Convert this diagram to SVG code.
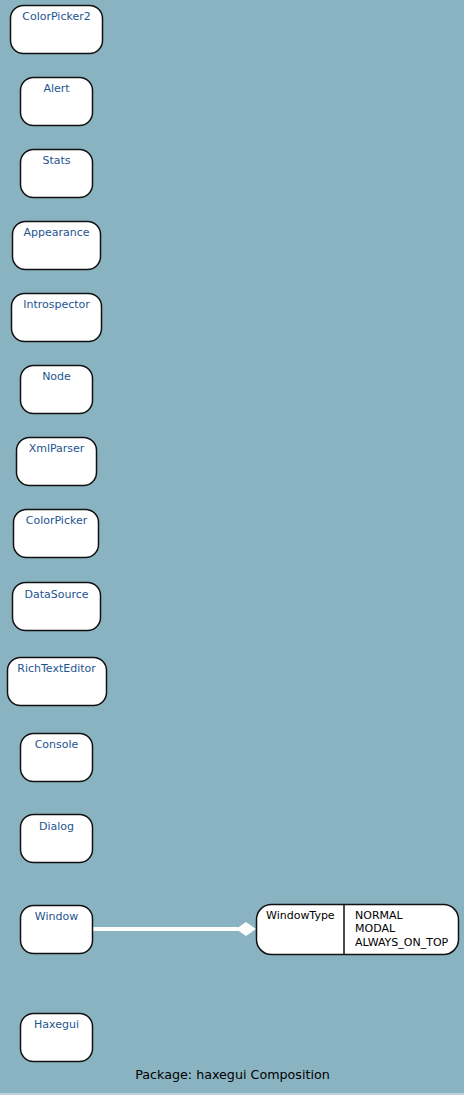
<svg xmlns="http://www.w3.org/2000/svg" width="464" height="1095" viewBox="0 0 464 1095">
<style>
.n{fill:#fff;stroke:#111;stroke-width:1.5}
.t{font-family:"DejaVu Sans",sans-serif;font-size:11px;fill:#1d5490;text-anchor:middle}
.k{font-family:"DejaVu Sans",sans-serif;font-size:11px;fill:#000}
</style>
<rect x="0" y="0" width="464" height="1095" fill="#8ab3c1"/>
<line x1="0" y1="1094" x2="464" y2="1094" stroke="#c8dbe1" stroke-width="1.5"/>
<g id="connectors">
<line x1="92" y1="929" x2="238" y2="929" stroke="#fff" stroke-width="4"/>
<polygon points="236,929 246,922 256,929 246,936" fill="#fff"/>
</g>
<g id="ColorPicker2"><rect class="n" x="10.5" y="5.5" width="92" height="48" rx="13"/><text class="t" x="56.5" y="20">ColorPicker2</text></g>
<g id="Alert"><rect class="n" x="20.5" y="77.5" width="72" height="48" rx="13"/><text class="t" x="56.5" y="92">Alert</text></g>
<g id="Stats"><rect class="n" x="20.5" y="149.5" width="72" height="48" rx="13"/><text class="t" x="56.5" y="164">Stats</text></g>
<g id="Appearance"><rect class="n" x="12.5" y="221.5" width="88" height="48" rx="13"/><text class="t" x="56.5" y="236">Appearance</text></g>
<g id="Introspector"><rect class="n" x="11.5" y="293.5" width="90" height="48" rx="13"/><text class="t" x="56.5" y="308">Introspector</text></g>
<g id="Node"><rect class="n" x="20.5" y="365.5" width="72" height="48" rx="13"/><text class="t" x="56.5" y="380">Node</text></g>
<g id="XmlParser"><rect class="n" x="16.5" y="437.5" width="80" height="48" rx="13"/><text class="t" x="56.5" y="452">XmlParser</text></g>
<g id="ColorPicker"><rect class="n" x="13.5" y="509.5" width="85" height="48" rx="13"/><text class="t" x="56.5" y="524">ColorPicker</text></g>
<g id="DataSource"><rect class="n" x="12.5" y="582.5" width="88" height="48" rx="13"/><text class="t" x="56.5" y="598">DataSource</text></g>
<g id="RichTextEditor"><rect class="n" x="7.5" y="657.5" width="99" height="48" rx="13"/><text class="t" x="56.5" y="672">RichTextEditor</text></g>
<g id="Console"><rect class="n" x="20.5" y="733.5" width="72" height="48" rx="13"/><text class="t" x="56.5" y="748">Console</text></g>
<g id="Dialog"><rect class="n" x="20.5" y="814.5" width="72" height="48" rx="13"/><text class="t" x="56.5" y="830">Dialog</text></g>
<g id="Window"><rect class="n" x="20.5" y="905.5" width="72" height="48" rx="13"/><text class="t" x="56.5" y="920">Window</text></g>
<g id="WindowType"><rect class="n" x="256.5" y="904.5" width="202" height="50" rx="15"/><line x1="344" y1="905" x2="344" y2="954" stroke="#111" stroke-width="1.5"/><text class="k" x="266" y="919">WindowType</text><text class="k" x="355" y="919">NORMAL</text><text class="k" x="355" y="932">MODAL</text><text class="k" x="355" y="946">ALWAYS_ON_TOP</text></g>
<g id="Haxegui"><rect class="n" x="20.5" y="1013.5" width="72" height="48" rx="13"/><text class="t" x="56.5" y="1028">Haxegui</text></g>
<text x="232.5" y="1079" style="font-family:'DejaVu Sans',sans-serif;font-size:12.7px;fill:#000;text-anchor:middle">Package: haxegui Composition</text>
</svg>
